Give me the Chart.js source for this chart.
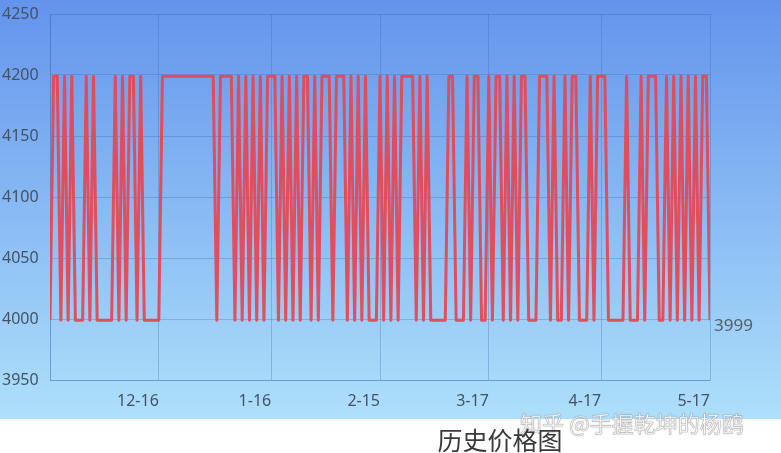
<!DOCTYPE html>
<html>
<head>
<meta charset="utf-8">
<script src="https://cdn.jsdelivr.net/npm/chart.js@4.4.0/dist/chart.umd.min.js"></script>
<style>
body { margin: 0; background: #fff; }
#wrap { position: relative; width: 781px; height: 453px; overflow: hidden; }
#title { position: absolute; left: 400px; width: 200px; top: 424px; text-align: center; font-family: "Noto Sans CJK SC"; font-size: 25px; line-height: 30px; color: #3a3a3a; }
#mark { position: absolute; left: 520px; top: 408px; font-family: "Noto Sans CJK SC"; font-size: 22px; line-height: 28px; color: rgba(255,255,255,0.92); -webkit-text-stroke: 0.6px rgba(140,140,140,0.55); text-shadow: 0 0 2px rgba(90,90,90,0.35); }
</style>
</head>
<body>
<div id="wrap">
    <canvas id="priceChart" width="781" height="453"></canvas>
    <div id="mark">知乎 @手握乾坤的杨鸥</div>
    <div id="title">历史价格图</div>
</div>
<script>
// Data
const startDate = [2016, 11, 16];
const tickLabels = ["12-16", "1-16", "2-15", "3-17", "4-17", "5-17"];
const yMin = 3950, yMax = 4250, yStep = 50;
const prices = [
    3999, 4199, 4199, 3999, 4199, 3999, 4199, 3999, 3999, 3999,
    4199, 3999, 4199, 3999, 3999, 3999, 3999, 3999, 4199, 3999,
    4199, 3999, 4199, 4199, 3999, 4199, 3999, 3999, 3999, 3999,
    3999, 4199, 4199, 4199, 4199, 4199, 4199, 4199, 4199, 4199,
    4199, 4199, 4199, 4199, 4199, 4199, 3999, 4199, 4199, 4199,
    4199, 3999, 4199, 3999, 4199, 3999, 4199, 3999, 4199, 3999,
    4199, 4199, 4199, 3999, 4199, 3999, 4199, 3999, 4199, 3999,
    4199, 4199, 3999, 4199, 3999, 4199, 4199, 4199, 3999, 4199,
    4199, 4199, 3999, 4199, 3999, 4199, 3999, 4199, 3999, 3999,
    3999, 4199, 3999, 4199, 3999, 4199, 3999, 4199, 4199, 4199,
    4199, 3999, 4199, 3999, 4199, 3999, 3999, 3999, 3999, 3999,
    4199, 4199, 3999, 3999, 3999, 4199, 3999, 4199, 4199, 3999,
    3999, 4199, 3999, 4199, 4199, 3999, 4199, 3999, 4199, 3999,
    4199, 4199, 3999, 3999, 3999, 4199, 4199, 4199, 3999, 4199,
    3999, 3999, 4199, 3999, 4199, 4199, 3999, 3999, 3999, 4199,
    3999, 4199, 4199, 4199, 3999, 3999, 3999, 3999, 3999, 4199,
    3999, 3999, 3999, 4199, 3999, 4199, 4199, 4199, 3999, 3999,
    4199, 3999, 4199, 3999, 4199, 3999, 4199, 3999, 4199, 3999,
    4199, 4199, 3999
];

// one date label per day
const dates = prices.map((p, i) => {
    const d = new Date(startDate[0], startDate[1] - 1, startDate[2] + i);
    return (d.getMonth() + 1) + "-" + d.getDate();
});
const tickIdx = [0].concat(tickLabels.map(t => dates.indexOf(t)));

const gridColor = "rgba(60,100,170,0.3)";
const labelColor = "#455264";
const labelFont = { family: "Noto Sans", size: 16 };

// Background gradient
const bgPlugin = {
    id: "bg",
    beforeDraw(chart) {
        const ctx = chart.ctx;
        const g = ctx.createLinearGradient(0, 0, 0, 419);
        g.addColorStop(0, "#6394ec");
        g.addColorStop(1, "#aee0fb");
        ctx.save();
        ctx.fillStyle = g;
        ctx.fillRect(0, 0, chart.width, 419);
        ctx.restore();
    }
};

// Label on last point
const lastLabel = {
    id: "lastLabel",
    afterDatasetsDraw(chart) {
        const ctx = chart.ctx;
        const meta = chart.getDatasetMeta(0);
        const pt = meta.data[meta.data.length - 1];
        ctx.save();
        ctx.font = "17px 'Noto Sans'";
        ctx.fillStyle = "#56606e";
        ctx.textBaseline = "middle";
        ctx.fillText(prices[prices.length - 1], pt.x + 4, pt.y + 6);
        ctx.restore();
    }
};

function renderChart() {
    const ctx = document.getElementById("priceChart").getContext("2d");
    new Chart(ctx, {
        type: "line",
        data: {
            datasets: [{
                data: prices.map((p, i) => ({ x: i, y: p })),
                borderColor: "rgba(230,72,84,0.95)",
                borderWidth: 3,
                borderJoinStyle: "round",
                pointRadius: 0,
                tension: 0,
                fill: false
            }]
        },
        options: {
            responsive: false,
            animation: false,
            layout: { padding: { top: 14, right: 71, left: 2, bottom: 0 } },
            plugins: {
                legend: { display: false },
                tooltip: { enabled: false }
            },
            scales: {
                x: {
                    type: "linear",
                    min: 0,
                    max: dates.length - 1,
                    afterBuildTicks: s => { s.ticks = tickIdx.map(v => ({ value: v })); },
                    afterFit: s => { s.height = 73; },
                    ticks: {
                        callback: v => v === 0 ? "" : dates[v],
                        align: "end",
                        padding: 12,
                        maxRotation: 0,
                        autoSkip: false,
                        color: labelColor,
                        font: labelFont
                    },
                    grid: { color: gridColor, drawTicks: false },
                    border: { color: gridColor }
                },
                y: {
                    min: yMin,
                    max: yMax,
                    afterFit: s => { s.width = 48; },
                    ticks: {
                        stepSize: yStep,
                        callback: v => String(v),
                        crossAlign: "far",
                        color: labelColor,
                        font: labelFont
                    },
                    grid: { color: gridColor, drawTicks: false },
                    border: { color: gridColor }
                }
            }
        },
        plugins: [bgPlugin, lastLabel]
    });
}

document.addEventListener("DOMContentLoaded", renderChart);
</script>
</body>
</html>
